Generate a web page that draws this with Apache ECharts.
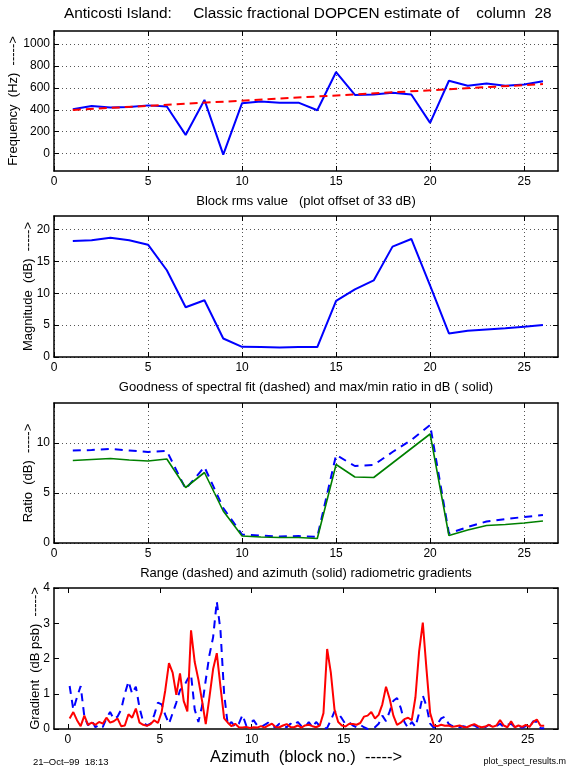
<!DOCTYPE html>
<html>
<head>
<meta charset="utf-8">
<script src="https://cdn.jsdelivr.net/npm/echarts@6/dist/echarts.min.js"></script>
<style>
  html, body { margin: 0; padding: 0; background: #ffffff; }
  #chart { width: 566px; height: 770px; }
</style>
</head>
<body>
<div id="chart"></div>
<script>
// ---- Block-level results (one value per block, 1..26) ----
const blocks = [1, 2, 3, 4, 5, 6, 7, 8, 9, 10, 11, 12, 13, 14, 15, 16, 17, 18, 19, 20, 21, 22, 23, 24, 25, 26];

// Centroid frequency per block (Hz) and its linear trend (end points)
const freqHz = [405, 435, 420, 425, 440, 430, 170, 490, -10, 460, 475, 465, 465, 395, 745, 535, 540, 555, 540, 280, 665, 620, 640, 620, 630, 660];
const freqTrendBlocks = [1, 26];
const freqTrendHz = [398, 635];

// Block rms value (dB, plotted with 33 dB offset)
const rmsDb = [18.2, 18.3, 18.7, 18.3, 17.6, 13.6, 7.8, 8.9, 2.9, 1.6, 1.55, 1.5, 1.55, 1.55, 8.8, 10.6, 12.0, 17.3, 18.5, 11.2, 3.7, 4.1, 4.3, 4.5, 4.75, 5.0];

// Goodness of spectral fit (dashed) and max/min ratio (solid), dB
const fitGoodness = [9.25, 9.3, 9.4, 9.25, 9.1, 9.2, 5.4, 7.6, 3.5, 0.85, 0.75, 0.65, 0.7, 0.6, 8.8, 7.7, 7.8, 9.1, 10.3, 11.8, 0.95, 1.6, 2.15, 2.4, 2.6, 2.8];
const maxMinRatio = [8.25, 8.35, 8.45, 8.3, 8.2, 8.4, 5.55, 7.05, 3.2, 0.7, 0.6, 0.55, 0.55, 0.45, 7.85, 6.6, 6.55, 8.0, 9.45, 10.9, 0.75, 1.3, 1.75, 1.85, 2.0, 2.2];

// ---- Radiometric gradients along azimuth (block no.) ----
const azimuthPos = [
  0.1, 0.3, 0.5, 0.7, 0.9, 1.1, 1.3, 1.5, 1.7, 1.9,
  2.1, 2.3, 2.5, 2.7, 2.9, 3.1, 3.3, 3.5, 3.7, 3.9,
  4.1, 4.3, 4.5, 4.7, 4.9, 5.1, 5.3, 5.5, 5.7, 5.9,
  6.1, 6.3, 6.5, 6.7, 6.9, 7.1, 7.3, 7.5, 7.7, 7.9,
  8.1, 8.3, 8.5, 8.7, 8.9, 9.1, 9.3, 9.5, 9.7, 9.9,
  10.1, 10.3, 10.5, 10.7, 10.9, 11.1, 11.3, 11.5, 11.7, 11.9,
  12.1, 12.3, 12.5, 12.7, 12.9, 13.1, 13.3, 13.5, 13.7, 13.9,
  14.1, 14.3, 14.5, 14.7, 14.9, 15.1, 15.3, 15.5, 15.7, 15.9,
  16.1, 16.3, 16.5, 16.7, 16.9, 17.1, 17.3, 17.5, 17.7, 17.9,
  18.1, 18.3, 18.5, 18.7, 18.9, 19.1, 19.3, 19.5, 19.7, 19.9,
  20.1, 20.3, 20.5, 20.7, 20.9, 21.1, 21.3, 21.5, 21.7, 21.9,
  22.1, 22.3, 22.5, 22.7, 22.9, 23.1, 23.3, 23.5, 23.7, 23.9,
  24.1, 24.3, 24.5, 24.7, 24.9, 25.1, 25.3, 25.5, 25.7, 25.9
];
// Range gradient (dashed)
const rangeGradient = [
  1.22, 0.55, 0.90, 1.22, 0.35, 0.10, 0.25, 0.05, 0.12, 0.05,
  0.30, 0.48, 0.28, 0.35, 0.55, 1.00, 1.35, 1.00, 1.20, 0.60,
  0.20, 0.10, 0.15, 0.40, 0.75, 0.70, 0.40, 0.15, 0.45, 0.75,
  1.10, 1.20, 1.40, 1.55, 0.55, 0.20, 0.65, 1.39, 2.10, 2.60,
  3.62, 2.80, 1.00, 0.10, 0.20, 0.05, 0.15, 0.40, 0.10, 0.15,
  0.25, 0.10, 0.05, 0.12, 0.18, 0.08, 0.05, 0.15, 0.10, 0.05,
  0.15, 0.10, 0.20, 0.08, 0.05, 0.20, 0.05, 0.20, 0.08, 0.02,
  0.03, 0.25, 0.50, 0.45, 0.30, 0.14, 0.18, 0.10, 0.05, 0.12,
  0.05, 0.00, 0.02, 0.05, 0.15, 0.38, 0.22, 0.50, 0.80, 0.88,
  0.60, 0.20, 0.03, 0.20, 0.06, 0.45, 0.95, 0.65, 0.15, 0.03,
  0.15, 0.30, 0.35, 0.15, 0.08, 0.12, 0.05, 0.08, 0.05, 0.12,
  0.10, 0.04, 0.08, 0.05, 0.12, 0.05, 0.08, 0.15, 0.05, 0.12,
  0.15, 0.05, 0.10, 0.03, 0.08, 0.05, 0.22, 0.20, 0.02, 0.02
];
// Azimuth gradient (solid)
const azimuthGradient = [
  0.30, 0.48, 0.25, 0.08, 0.38, 0.12, 0.18, 0.12, 0.20, 0.15,
  0.32, 0.18, 0.22, 0.30, 0.08, 0.10, 0.42, 0.32, 0.58, 0.18,
  0.12, 0.09, 0.14, 0.25, 0.17, 0.48, 1.10, 1.87, 1.60, 0.97,
  1.58, 0.80, 0.50, 2.80, 1.90, 1.40, 0.80, 0.14, 0.90, 1.70,
  2.15, 1.20, 0.30, 0.18, 0.08, 0.15, 0.05, 0.04, 0.06, 0.03,
  0.05, 0.04, 0.08, 0.04, 0.10, 0.15, 0.06, 0.05, 0.10, 0.14,
  0.06, 0.05, 0.10, 0.04, 0.10, 0.12, 0.08, 0.05, 0.10, 0.45,
  2.27, 1.60, 0.55, 0.20, 0.10, 0.07, 0.15, 0.14, 0.12, 0.17,
  0.35, 0.38, 0.48, 0.30, 0.40, 0.70, 1.20, 0.85, 0.38, 0.12,
  0.18, 0.28, 0.32, 0.25, 0.90, 2.20, 3.02, 1.70, 0.45, 0.10,
  0.08, 0.12, 0.09, 0.10, 0.06, 0.08, 0.10, 0.06, 0.05, 0.10,
  0.14, 0.08, 0.05, 0.07, 0.12, 0.06, 0.10, 0.25, 0.10, 0.05,
  0.22, 0.05, 0.10, 0.06, 0.12, 0.06, 0.20, 0.27, 0.09, 0.09
];

// ---- Tick values ----
const blockTicks = [0, 5, 10, 15, 20, 25];
const freqTicks = [0, 200, 400, 600, 800, 1000];
const rmsTicks = [0, 5, 10, 15, 20];
const ratioTicks = [0, 5, 10];
const gradTicks = [0, 1, 2, 3, 4];

// ---- Text ----
const titleText = 'Anticosti Island:     Classic fractional DOPCEN estimate of    column  28';
const freqXName = 'Block rms value   (plot offset of 33 dB)';
const rmsXName = 'Goodness of spectral fit (dashed) and max/min ratio in dB ( solid)';
const ratioXName = 'Range (dashed) and azimuth (solid) radiometric gradients';
const gradXName = 'Azimuth  (block no.)  ----->';
const freqYName = 'Frequency  (Hz)  ----->';
const rmsYName = 'Magnitude  (dB)  ----->';
const ratioYName = 'Ratio  (dB)  ----->';
const gradYName = 'Gradient  (dB psb)  ----->';
const dateStamp = '21\u2013Oct\u201399  18:13';
const scriptName = 'plot_spect_results.m';

const FONT = '"Liberation Sans", Arial, Helvetica, sans-serif';
const BLACK = '#000000';
const TICK_FONT = 12;
const NAME_FONT = 13;

function pairs(xs, ys) { return xs.map((x, i) => [x, ys[i]]); }
function plain(v) { return String(v); }

// bottom + top x axes for one panel
function xAxisPair(grid, min, max, ticks, name, nameGap, nameSize, split) {
  const line = { show: true, onZero: false, lineStyle: { color: BLACK, width: 1.5 } };
  return [
    {
      type: 'value', gridIndex: grid, min: min, max: max, position: 'bottom',
      axisLine: line,
      axisTick: { show: true, inside: true, length: 5, customValues: ticks, lineStyle: { color: BLACK, width: 1 } },
      axisLabel: { show: true, customValues: ticks, formatter: plain, color: BLACK, fontSize: TICK_FONT, fontFamily: FONT, margin: 5 },
      splitLine: { show: split, lineStyle: { color: '#555', width: 1, type: [1, 3] } },
      name: name, nameLocation: 'middle', nameGap: nameGap, nameMoveOverlap: false,
      nameTextStyle: { color: BLACK, fontSize: nameSize, fontFamily: FONT }
    },
    {
      type: 'value', gridIndex: grid, min: min, max: max, position: 'top',
      axisLine: line,
      axisTick: { show: true, inside: true, length: 5, customValues: ticks, lineStyle: { color: BLACK, width: 1 } },
      axisLabel: { show: false },
      splitLine: { show: false }
    }
  ];
}

// left + right y axes for one panel
function yAxisPair(grid, min, max, ticks, name, nameGap, split) {
  const line = { show: true, onZero: false, lineStyle: { color: BLACK, width: 1.5 } };
  return [
    {
      type: 'value', gridIndex: grid, min: min, max: max, position: 'left',
      axisLine: line,
      axisTick: { show: true, inside: true, length: 5, customValues: ticks, lineStyle: { color: BLACK, width: 1 } },
      axisLabel: { show: true, customValues: ticks, formatter: plain, color: BLACK, fontSize: TICK_FONT, fontFamily: FONT, margin: 4 },
      splitLine: { show: split, lineStyle: { color: '#555', width: 1, type: [1, 3] } },
      name: name, nameLocation: 'middle', nameGap: nameGap, nameMoveOverlap: false,
      nameTextStyle: { color: BLACK, fontSize: NAME_FONT, fontFamily: FONT }
    },
    {
      type: 'value', gridIndex: grid, min: min, max: max, position: 'right',
      axisLine: line,
      axisTick: { show: true, inside: true, length: 5, customValues: ticks, lineStyle: { color: BLACK, width: 1 } },
      axisLabel: { show: false },
      splitLine: { show: false }
    }
  ];
}

function lineSeries(axisIdx, data, color, width, dash, z) {
  return {
    type: 'line', xAxisIndex: axisIdx, yAxisIndex: axisIdx, data: data,
    showSymbol: false, symbol: 'none', smooth: false, z: z || 2,
    lineStyle: { color: color, width: width, type: dash || 'solid' },
    emphasis: { disabled: true }, silent: true
  };
}

function panelGrid(top, height) {
  return { left: 54, right: 8, top: top, height: height, containLabel: false, outerBoundsMode: 'none' };
}

const chart = echarts.init(document.getElementById('chart'), null, { renderer: 'canvas' });

chart.setOption({
  animation: false,
  backgroundColor: '#ffffff',
  title: {
    text: titleText, left: 64, top: 6, padding: 0,
    textStyle: { color: BLACK, fontSize: 15.4, fontWeight: 'normal', fontFamily: FONT }
  },
  grid: [
    panelGrid(31, 140),
    panelGrid(216, 141),
    panelGrid(403, 140),
    panelGrid(588, 141)
  ],
  xAxis: [].concat(
    xAxisPair(0, 0, 26.8, blockTicks, freqXName, 24, NAME_FONT, true),
    xAxisPair(1, 0, 26.8, blockTicks, rmsXName, 24, NAME_FONT, true),
    xAxisPair(2, 0, 26.8, blockTicks, ratioXName, 24, NAME_FONT, true),
    xAxisPair(3, -0.75, 26.65, blockTicks, gradXName, 20, 16.5, false)
  ),
  yAxis: [].concat(
    yAxisPair(0, -160, 1120, freqTicks, freqYName, 34, true),
    yAxisPair(1, 0, 22.1, rmsTicks, rmsYName, 19, true),
    yAxisPair(2, 0, 14, ratioTicks, ratioYName, 19, true),
    yAxisPair(3, 0, 4, gradTicks, gradYName, 12, false)
  ),
  series: [
    lineSeries(0, pairs(blocks, freqHz), '#0000ff', 2),
    lineSeries(0, pairs(freqTrendBlocks, freqTrendHz), '#ff0000', 2, [8, 5], 3),
    lineSeries(2, pairs(blocks, rmsDb), '#0000ff', 2),
    lineSeries(4, pairs(blocks, fitGoodness), '#0000ff', 2, [8, 6]),
    lineSeries(4, pairs(blocks, maxMinRatio), '#008000', 1.6, 'solid', 3),
    lineSeries(6, pairs(azimuthPos, rangeGradient), '#0000ff', 2, [8, 6]),
    lineSeries(6, pairs(azimuthPos, azimuthGradient), '#ff0000', 2, 'solid', 3)
  ],
  graphic: [
    {
      type: 'text', left: 33, top: 757,
      style: { text: dateStamp, fill: BLACK, font: '9.5px ' + FONT }
    },
    {
      type: 'text', right: 0, top: 757,
      style: { text: scriptName, fill: BLACK, font: '9px ' + FONT }
    }
  ]
});
</script>
</body>
</html>
